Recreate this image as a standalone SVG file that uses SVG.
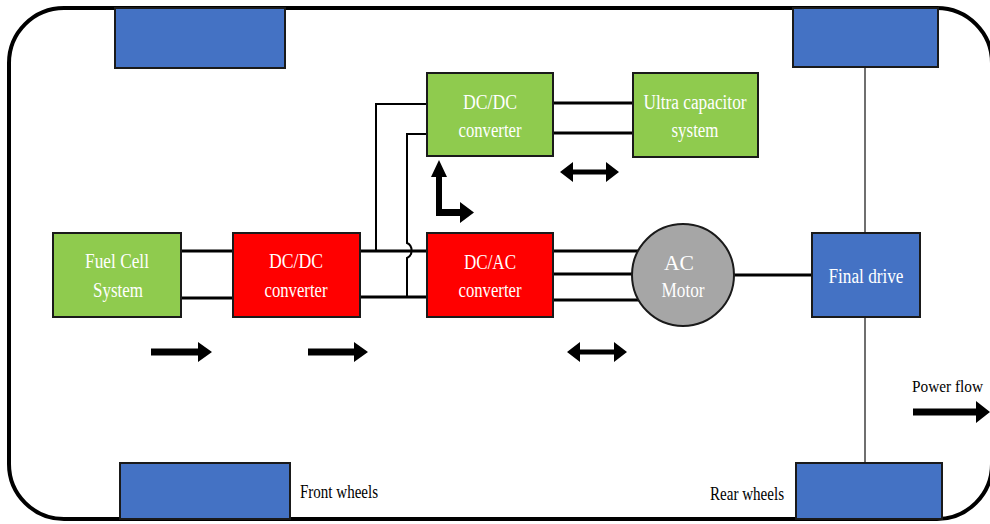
<svg xmlns="http://www.w3.org/2000/svg" width="990" height="524" viewBox="0 0 990 524">
  <style>
    .frame { fill: none; stroke: #000; stroke-width: 4; }
    .box { stroke: #1a1a1a; stroke-width: 2; }
    .green { fill: #8fcb4e; }
    .red { fill: #ff0000; }
    .blue { fill: #4472c4; }
    .motor { fill: #a6a6a6; stroke: #1a1a1a; stroke-width: 2; }
    .wire { fill: none; stroke: #000; stroke-width: 3; }
    .thin { fill: none; stroke: #000; stroke-width: 2; }
    .axle { fill: none; stroke: #6f6f6f; stroke-width: 2; }
    .lbl { font-family: "Liberation Serif", "Times New Roman", serif; font-size: 20px; fill: #ffffff; text-anchor: middle; }
    .cap { font-family: "Liberation Serif", "Times New Roman", serif; font-size: 18px; fill: #000; }
    .arrow { fill: #000; }
  </style>

  <!-- vehicle outline (right side runs just past the canvas edge) -->
  <rect class="frame" x="9" y="8" width="983" height="511" rx="55" ry="55"/>

  <!-- drive axle -->
  <g id="connectors">
    <line class="axle" x1="865" y1="67" x2="865" y2="233"/>
    <line class="axle" x1="865" y1="317" x2="865" y2="463"/>

    <!-- fuel cell to boost converter -->
    <line class="wire" x1="181" y1="251" x2="233" y2="251"/>
    <line class="wire" x1="181" y1="298" x2="233" y2="298"/>
    <!-- DC bus to inverter -->
    <line class="wire" x1="360" y1="251" x2="427" y2="251"/>
    <line class="wire" x1="360" y1="297" x2="427" y2="297"/>
    <!-- bus taps to the ultracapacitor converter -->
    <polyline class="thin" points="376,251 376,104 427,104"/>
    <path class="thin" d="M407,297 V258 A7,8 0 0 0 407,243 V134 H427"/>
    <!-- converter to ultracapacitor -->
    <line class="wire" x1="553" y1="103" x2="633" y2="103"/>
    <line class="wire" x1="553" y1="133" x2="633" y2="133"/>
    <!-- three-phase to motor -->
    <line class="wire" x1="553" y1="251" x2="642" y2="251"/>
    <line class="wire" x1="553" y1="274" x2="633" y2="274"/>
    <line class="wire" x1="553" y1="300" x2="642" y2="300"/>
    <!-- motor shaft to final drive -->
    <line class="wire" x1="734" y1="275" x2="812" y2="275"/>
  </g>

  <!-- wheels -->
  <g id="wheel-front-top"><rect class="box blue" x="115" y="8" width="170" height="60"/></g>
  <g id="wheel-rear-top"><rect class="box blue" x="793" y="8" width="145" height="59"/></g>
  <g id="wheel-front-bottom"><rect class="box blue" x="120" y="463" width="170" height="56"/></g>
  <g id="wheel-rear-bottom"><rect class="box blue" x="796" y="463" width="146" height="56"/></g>

  <g id="fuel-cell">
    <rect class="box green" x="53" y="233" width="128" height="84"/>
    <text class="lbl" x="117" y="268" textLength="64" lengthAdjust="spacingAndGlyphs">Fuel Cell</text>
    <text class="lbl" x="118" y="297" textLength="50" lengthAdjust="spacingAndGlyphs">System</text>
  </g>

  <g id="dcdc-main">
    <rect class="box red" x="233" y="233" width="127" height="84"/>
    <text class="lbl" x="296" y="268" textLength="54" lengthAdjust="spacingAndGlyphs">DC/DC</text>
    <text class="lbl" x="296" y="297" textLength="63" lengthAdjust="spacingAndGlyphs">converter</text>
  </g>

  <g id="dcdc-uc">
    <rect class="box green" x="427" y="73" width="126" height="83"/>
    <text class="lbl" x="490" y="109" textLength="54" lengthAdjust="spacingAndGlyphs">DC/DC</text>
    <text class="lbl" x="490" y="137" textLength="63" lengthAdjust="spacingAndGlyphs">converter</text>
  </g>

  <g id="ultracap">
    <rect class="box green" x="633" y="73" width="125" height="84"/>
    <text class="lbl" x="695" y="109" textLength="103" lengthAdjust="spacingAndGlyphs">Ultra capacitor</text>
    <text class="lbl" x="695" y="137" textLength="47" lengthAdjust="spacingAndGlyphs">system</text>
  </g>

  <g id="dcac">
    <rect class="box red" x="427" y="233" width="126" height="84"/>
    <text class="lbl" x="490" y="269" textLength="52" lengthAdjust="spacingAndGlyphs">DC/AC</text>
    <text class="lbl" x="490" y="297" textLength="63" lengthAdjust="spacingAndGlyphs">converter</text>
  </g>

  <g id="ac-motor">
    <circle class="motor" cx="683" cy="275" r="51"/>
    <text class="lbl" x="679" y="270" textLength="30" lengthAdjust="spacingAndGlyphs">AC</text>
    <text class="lbl" x="683" y="297" textLength="43" lengthAdjust="spacingAndGlyphs">Motor</text>
  </g>

  <g id="final-drive">
    <rect class="box blue" x="812" y="233" width="108" height="84"/>
    <text class="lbl" x="866" y="283" textLength="75" lengthAdjust="spacingAndGlyphs">Final drive</text>
  </g>

  <!-- power flow arrows -->
  <g id="flow-arrows">
    <polygon class="arrow" points="151,348.5 198,348.5 198,342 212,352 198,362 198,355.5 151,355.5"/>
    <polygon class="arrow" points="308,348.5 354,348.5 354,342 368,352 354,362 354,355.5 308,355.5"/>
    <polygon class="arrow" points="567,352 580,342 580,349.5 614,349.5 614,342 627,352 614,362 614,354.5 580,354.5 580,362"/>
    <polygon class="arrow" points="560,172 573,162 573,169.5 606,169.5 606,162 619,172 606,182 606,174.5 573,174.5 573,182"/>
    <polygon class="arrow" points="439,160 447,177 442,177 442,209 460,209 460,202 474,212.5 460,223 460,216 436,216 436,177 431,177"/>
    <polygon class="arrow" points="913,408.5 976,408.5 976,401 990,412 976,423 976,415.5 913,415.5"/>
  </g>

  <!-- captions -->
  <text class="cap" x="912" y="392" font-size="16.5" textLength="71" lengthAdjust="spacingAndGlyphs" style="font-size:16.5px">Power flow</text>
  <text class="cap" x="300" y="498" textLength="78" lengthAdjust="spacingAndGlyphs">Front wheels</text>
  <text class="cap" x="710" y="500" textLength="74" lengthAdjust="spacingAndGlyphs">Rear wheels</text>
</svg>
